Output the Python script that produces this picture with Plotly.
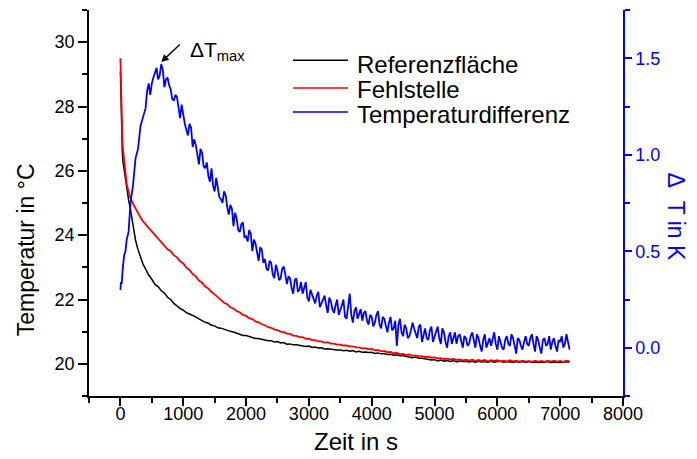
import plotly.graph_objects as go

# ---------------- data ----------------
time_s = [0, 10, 20, 30, 40, 60, 80, 100, 130, 160, 200, 240, 280, 320, 360] + list(range(400, 7151, 50))
time_diff_s = [0, 10, 20, 30, 40, 60, 80, 100, 130, 160, 200, 240, 280, 320, 360] + list(range(400, 7151, 25))

ref_temp = [
    29.1, 28.0, 27.2, 26.6, 26.3, 26.0, 25.7, 25.4, 25.1, 24.8, 24.3, 23.85, 23.55, 23.3, 23.1,
    22.95, 22.76, 22.63, 22.47, 22.40, 22.27, 22.20, 22.07, 22.00, 21.88,
    21.80, 21.72, 21.67, 21.59, 21.55, 21.51, 21.46, 21.40, 21.34, 21.29,
    21.26, 21.20, 21.18, 21.12, 21.11, 21.07, 21.05, 21.01, 20.99, 20.95,
    20.93, 20.88, 20.88, 20.85, 20.83, 20.79, 20.79, 20.76, 20.75, 20.72,
    20.72, 20.68, 20.69, 20.65, 20.66, 20.61, 20.62, 20.59, 20.59, 20.57,
    20.57, 20.54, 20.55, 20.51, 20.52, 20.49, 20.50, 20.46, 20.47, 20.45,
    20.45, 20.43, 20.43, 20.41, 20.42, 20.39, 20.41, 20.37, 20.39, 20.36,
    20.37, 20.35, 20.36, 20.32, 20.34, 20.31, 20.32, 20.29, 20.30, 20.27,
    20.28, 20.25, 20.25, 20.23, 20.23, 20.19, 20.21, 20.17, 20.17, 20.15,
    20.15, 20.12, 20.13, 20.09, 20.12, 20.08, 20.10, 20.07, 20.10, 20.06,
    20.09, 20.07, 20.08, 20.06, 20.08, 20.05, 20.08, 20.06, 20.07, 20.05,
    20.08, 20.05, 20.07, 20.08, 20.05, 20.07, 20.06, 20.04, 20.07, 20.05,
    20.07, 20.04, 20.07, 20.05, 20.06, 20.04, 20.06, 20.05, 20.07, 20.04,
    20.06, 20.05, 20.04, 20.06, 20.05, 20.06,
]

defect_temp = [
    29.5, 28.4, 27.6, 27.1, 26.7, 26.25, 25.9, 25.6, 25.35, 25.15, 24.98, 24.82, 24.68, 24.55, 24.43,
    24.34, 24.22, 24.14, 24.00, 23.90, 23.77, 23.69, 23.56, 23.50, 23.38,
    23.31, 23.19, 23.12, 22.99, 22.92, 22.79, 22.72, 22.59, 22.52, 22.40,
    22.34, 22.23, 22.16, 22.06, 21.99, 21.90, 21.85, 21.76, 21.72, 21.64,
    21.60, 21.52, 21.49, 21.42, 21.39, 21.32, 21.29, 21.23, 21.20, 21.14,
    21.12, 21.07, 21.05, 21.00, 20.99, 20.94, 20.93, 20.88, 20.87, 20.83,
    20.83, 20.78, 20.78, 20.74, 20.74, 20.70, 20.70, 20.66, 20.67, 20.63,
    20.63, 20.60, 20.60, 20.57, 20.57, 20.54, 20.54, 20.51, 20.51, 20.48,
    20.49, 20.45, 20.46, 20.42, 20.43, 20.39, 20.40, 20.36, 20.37, 20.33,
    20.34, 20.30, 20.31, 20.27, 20.29, 20.25, 20.26, 20.23, 20.24, 20.21,
    20.22, 20.19, 20.20, 20.17, 20.18, 20.15, 20.16, 20.14, 20.15, 20.12,
    20.14, 20.11, 20.13, 20.10, 20.13, 20.09, 20.12, 20.09, 20.12, 20.08,
    20.11, 20.09, 20.11, 20.08, 20.10, 20.07, 20.11, 20.08, 20.10, 20.07,
    20.10, 20.07, 20.09, 20.06, 20.10, 20.07, 20.09, 20.06, 20.10, 20.07,
    20.10, 20.07, 20.09, 20.06, 20.10, 20.08,
]

delta_t = [
    0.30, 0.34, 0.33, 0.40, 0.42, 0.48, 0.50, 0.56, 0.60, 0.75, 0.84, 0.98, 1.03, 1.15, 1.19,
    1.24, 1.33, 1.37, 1.31, 1.37, 1.40, 1.43, 1.45, 1.39, 1.41, 1.47, 1.44, 1.35, 1.39, 1.40, 1.36, 1.34, 1.29, 1.28, 1.31,
    1.30, 1.23, 1.19, 1.26, 1.20, 1.16, 1.13, 1.10, 1.16, 1.14, 1.04, 1.08, 1.05, 0.99, 0.95, 1.03, 1.01, 0.94, 0.93, 0.96,
    0.89, 0.86, 0.93, 0.84, 0.81, 0.88, 0.83, 0.78, 0.77, 0.75, 0.81, 0.79, 0.73, 0.69, 0.74, 0.72, 0.63, 0.70, 0.67, 0.61,
    0.60, 0.64, 0.65, 0.57, 0.58, 0.55, 0.61, 0.59, 0.50, 0.56, 0.54, 0.49, 0.45, 0.52, 0.51, 0.44, 0.46, 0.41, 0.40, 0.45,
    0.44, 0.38, 0.36, 0.43, 0.40, 0.35, 0.36, 0.41, 0.42, 0.38, 0.33, 0.37, 0.36, 0.31, 0.28, 0.35, 0.36, 0.29, 0.30, 0.34,
    0.28, 0.31, 0.34, 0.26, 0.24, 0.30, 0.28, 0.25, 0.23, 0.27, 0.29, 0.21, 0.23, 0.25, 0.27, 0.22, 0.18, 0.26, 0.24, 0.20,
    0.18, 0.22, 0.25, 0.17, 0.19, 0.22, 0.25, 0.16, 0.15, 0.21, 0.28, 0.17, 0.13, 0.19, 0.21, 0.15, 0.17, 0.20, 0.14, 0.18,
    0.19, 0.14, 0.12, 0.17, 0.16, 0.11, 0.13, 0.17, 0.19, 0.12, 0.10, 0.16, 0.15, 0.11, 0.08, 0.13, 0.16, 0.09, 0.10, 0.14,
    0.01, 0.12, 0.15, 0.08, 0.06, 0.12, 0.10, 0.05, 0.06, 0.09, 0.13, 0.10, 0.07, 0.05, 0.11, 0.12, 0.03, 0.07, 0.10, 0.05,
    0.04, 0.09, 0.11, 0.03, 0.06, 0.09, 0.11, 0.05, 0.02, 0.10, 0.08, 0.03, 0.00, 0.06, 0.08, 0.02, 0.05, 0.08, 0.02, 0.06,
    0.07, 0.03, 0.00, 0.06, 0.05, 0.01, 0.02, 0.06, 0.08, 0.04, 0.00, 0.07, 0.05, 0.01, -0.02, 0.04, 0.07, 0.00, 0.02, 0.05,
    0.01, 0.05, 0.08, 0.02, -0.01, 0.06, 0.03, 0.00, -0.01, 0.04, 0.06, 0.02, 0.01, 0.07, 0.05, 0.00, -0.03, 0.05, 0.04, 0.01,
    -0.01, 0.03, 0.06, 0.02, 0.01, 0.05, 0.07, 0.02, -0.02, 0.06, 0.04, 0.00, -0.03, 0.04, 0.05, 0.01, 0.02, 0.06, -0.01, 0.03,
    0.05, 0.01, -0.02, 0.04, 0.03, 0.06, 0.00, 0.02, 0.07, 0.03, -0.01,
]

series_names = ["Referenzfläche", "Fehlstelle", "Temperaturdifferenz"]
series_colors = ["#000000", "#ff0000", "#0000ff"]
x_title = "Zeit in s"
y_title = "Temperatur in °C"
y2_title = "Δ\u00a0\u00a0T in K"

FONT = "Arial, 'Liberation Sans', sans-serif"

fig = go.Figure()
fig.add_trace(go.Scatter(x=time_s, y=ref_temp, mode="lines", name=series_names[0],
                         line=dict(color=series_colors[0], width=1.5), showlegend=False))
fig.add_trace(go.Scatter(x=time_s, y=defect_temp, mode="lines", name=series_names[1],
                         line=dict(color=series_colors[1], width=1.8), showlegend=False))
fig.add_trace(go.Scatter(x=time_diff_s, y=delta_t, mode="lines", name=series_names[2],
                         line=dict(color=series_colors[2], width=1.8), yaxis="y2", showlegend=False))

# manual legend (long line samples as in the reference)
leg_line_y = [0.870, 0.798, 0.736]
leg_text_y = [0.858, 0.793, 0.728]
for name, col, ly, ty in zip(series_names, series_colors, leg_line_y, leg_text_y):
    fig.add_shape(type="line", xref="paper", yref="paper", x0=0.382, x1=0.485, y0=ly, y1=ly,
                  line=dict(color=col, width=1.5))
    fig.add_annotation(xref="paper", yref="paper", x=0.500, y=ty, text=name,
                       showarrow=False, xanchor="left", yanchor="middle", borderpad=0,
                       font=dict(family=FONT, size=24, color="#000000"))

# ΔT_max marker
peak_i = max(range(len(delta_t)), key=lambda i: delta_t[i])
fig.add_annotation(x=time_diff_s[peak_i], y=delta_t[peak_i] + 0.01, xref="x", yref="y2",
                   text="", showarrow=True, arrowhead=2, arrowsize=1, arrowwidth=1.5,
                   arrowcolor="#000000", ax=20, ay=-19, standoff=0)
fig.add_annotation(xref="paper", yref="paper", x=0.185, y=0.893, text="ΔT<sub>max</sub>",
                   showarrow=False, xanchor="left", yanchor="middle",
                   font=dict(family=FONT, size=21, color="#000000"))

# axis titles
fig.add_annotation(xref="paper", yref="paper", x=0.5, y=-0.117, text=x_title,
                   showarrow=False, xanchor="center", yanchor="middle",
                   font=dict(family=FONT, size=24, color="#000000"))
fig.add_annotation(xref="paper", yref="paper", x=-0.118, y=0.38, text=y_title,
                   textangle=-90, showarrow=False, xanchor="center", yanchor="middle",
                   font=dict(family=FONT, size=23, color="#000000"))
fig.add_annotation(xref="paper", yref="paper", x=1.10, y=0.464, text=y2_title,
                   textangle=90, showarrow=False, xanchor="center", yanchor="middle",
                   font=dict(family=FONT, size=23, color="#0000ff"))

axis_common = dict(showgrid=False, zeroline=False, showline=True, linewidth=1.5, automargin=False)

# the page body adds an 8px offset, so margins are shifted to place the plot area as in the reference
fig.update_layout(
    template="none",
    width=697, height=459,
    margin=dict(l=81, r=82, t=2, b=71, autoexpand=False),
    paper_bgcolor="white", plot_bgcolor="white",
    font=dict(family=FONT, size=18, color="#000000"),
    xaxis=dict(**axis_common, range=[-500, 8000], tick0=0, dtick=1000, linecolor="#000000",
               ticks="outside", ticklen=8, tickwidth=1.5, tickcolor="#000000", ticklabelstandoff=-7,
               minor=dict(dtick=500, tick0=0, ticks="outside", ticklen=5, tickwidth=1.5, tickcolor="#000000"),
               tickfont=dict(size=18)),
    xaxis2=dict(**axis_common, range=[-500, 8000], overlaying="x", side="top", anchor="y",
                tick0=0, dtick=1000, linecolor="#000000", ticks="inside", ticklen=4, tickwidth=1.5,
                tickcolor="#000000", showticklabels=False,
                minor=dict(dtick=500, tick0=0, ticks="inside", ticklen=4, tickwidth=1.5, tickcolor="#000000")),
    yaxis=dict(**axis_common, range=[19, 31], tick0=0, dtick=2, linecolor="#000000",
               ticks="outside", ticklen=9, tickwidth=1.5, tickcolor="#000000",
               minor=dict(dtick=1, tick0=0, ticks="outside", ticklen=5, tickwidth=1.5, tickcolor="#000000"),
               tickfont=dict(size=18)),
    yaxis2=dict(**axis_common, range=[-0.25, 1.75], overlaying="y", side="right", anchor="x",
                tick0=0, dtick=0.5, tickformat=".1f", linecolor="#0000ff",
                ticks="outside", ticklen=7, tickwidth=1.5, tickcolor="#0000ff",
                minor=dict(dtick=0.25, tick0=0, ticks="outside", ticklen=5, tickwidth=1.5, tickcolor="#0000ff"),
                tickfont=dict(size=18, color="#0000ff")),
)

fig.write_html("out.html")
